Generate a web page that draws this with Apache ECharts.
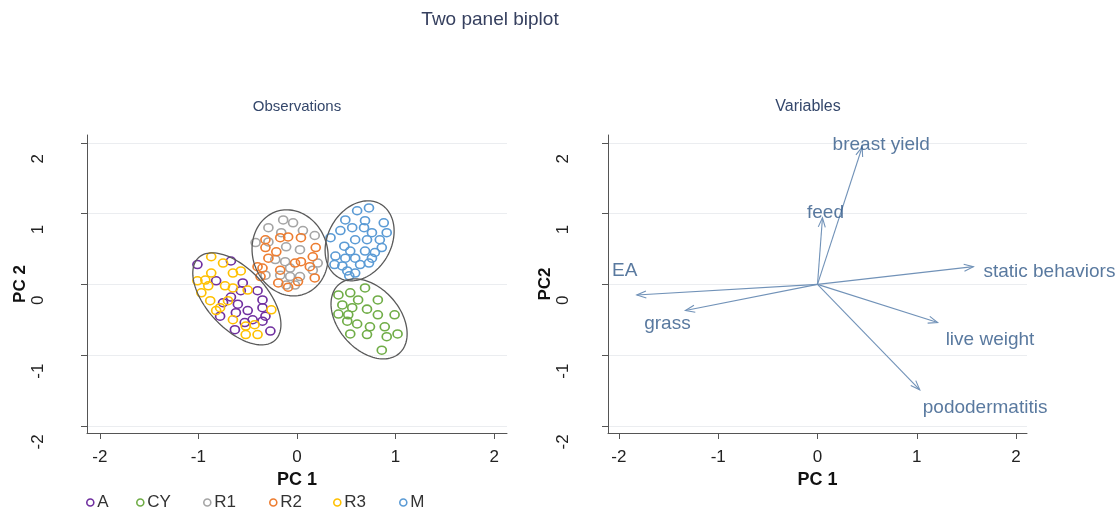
<!DOCTYPE html>
<html><head><meta charset="utf-8">
<script src="https://cdn.jsdelivr.net/npm/echarts@6/dist/echarts.min.js"></script>
<style>html,body{margin:0;padding:0;background:#fff}#c{width:1120px;height:510px}</style>
</head><body><div id="c"></div>
<script>
// ---------- DATA ----------
const groups = ['A', 'CY', 'R1', 'R2', 'R3', 'M'];
const tickValues = [-2, -1, 0, 1, 2];

const obsA = [[-1.01,0.28],[-0.67,0.33],[-0.82,0.05],[-0.55,0.02],[-0.57,-0.09],[-0.40,-0.09],[-0.67,-0.18],
  [-0.75,-0.26],[-0.60,-0.28],[-0.35,-0.22],[-0.35,-0.33],[-0.78,-0.45],[-0.62,-0.40],[-0.32,-0.45],
  [-0.45,-0.50],[-0.35,-0.52],[-0.63,-0.64],[-0.53,-0.54],[-0.27,-0.66],[-0.50,-0.37]];
const obsCY = [[0.69,-0.05],[0.42,-0.15],[0.54,-0.12],[0.62,-0.22],[0.82,-0.22],[0.46,-0.29],[0.56,-0.33],
  [0.71,-0.35],[0.42,-0.42],[0.52,-0.43],[0.82,-0.43],[0.99,-0.43],[0.51,-0.52],[0.61,-0.56],[0.74,-0.60],
  [0.89,-0.60],[0.54,-0.70],[0.71,-0.71],[0.91,-0.74],[1.02,-0.70],[0.86,-0.93]];
const obsR1 = [[-0.14,0.91],[-0.04,0.87],[-0.29,0.80],[-0.16,0.73],[0.06,0.76],[0.18,0.69],[-0.42,0.59],
  [-0.29,0.60],[-0.11,0.53],[0.03,0.49],[-0.22,0.35],[-0.12,0.32],[-0.32,0.13],[-0.17,0.13],[-0.07,0.23],
  [-0.07,0.11],[0.03,0.11],[0.21,0.30],[0.16,0.20],[-0.02,-0.01],[-0.11,-0.01]];
const obsR2 = [[-0.17,0.66],[-0.09,0.67],[0.04,0.66],[-0.32,0.63],[-0.32,0.52],[0.19,0.52],[-0.21,0.46],
  [0.16,0.39],[-0.40,0.25],[-0.35,0.23],[-0.02,0.30],[0.04,0.32],[0.13,0.25],[-0.37,0.11],[-0.17,0.20],
  [0.01,0.04],[0.18,0.09],[-0.19,0.02],[-0.09,-0.04],[-0.29,0.37]];
const obsR3 = [[-0.87,0.39],[-0.75,0.30],[-0.57,0.19],[-0.65,0.16],[-1.01,0.05],[-0.87,0.16],[-0.93,0.06],
  [-0.90,-0.02],[-0.73,-0.02],[-0.65,-0.05],[-0.97,-0.12],[-0.50,-0.08],[-0.88,-0.23],[-0.78,-0.33],
  [-0.70,-0.23],[-0.82,-0.37],[-0.26,-0.36],[-0.65,-0.50],[-0.52,-0.59],[-0.43,-0.57],[-0.52,-0.71],[-0.40,-0.71]];
const obsM = [[0.73,1.08],[0.61,1.04],[0.49,0.91],[0.69,0.90],[0.88,0.87],[0.56,0.80],[0.44,0.76],[0.68,0.80],
  [0.76,0.73],[0.91,0.73],[0.34,0.66],[0.59,0.63],[0.71,0.63],[0.84,0.63],[0.48,0.54],[0.86,0.52],[0.79,0.45],
  [0.54,0.47],[0.69,0.47],[0.39,0.40],[0.49,0.37],[0.59,0.37],[0.76,0.37],[0.38,0.28],[0.46,0.26],[0.64,0.28],
  [0.73,0.30],[0.51,0.19],[0.59,0.16],[0.53,0.12]];
const obsByGroup = [obsA, obsCY, obsR1, obsR2, obsR3, obsM];

// group ellipses: centre, half-width, half-height (data units), skew (degrees)
const ellipseCentersX = [-0.61, -0.07, 0.635, 0.731];
const ellipseCentersY = [-0.205, 0.445, 0.615, -0.488];
const ellipseHalfW = [0.447, 0.386, 0.350, 0.386];
const ellipseHalfH = [0.650, 0.608, 0.565, 0.565];
const ellipseSkew = [-34, -5, 14, -22];

// variable loadings (arrow tips)
const varNames = ['breast yield', 'feed', 'static behaviors', 'live weight', 'pododermatitis', 'EA', 'grass'];
const varX = [0.45, 0.05, 1.57, 1.21, 1.03, -1.82, -1.33];
const varY = [1.94, 0.94, 0.25, -0.54, -1.49, -0.15, -0.37];

// ---------- STYLE ----------
const groupColors = ['#7030a0', '#70ad47', '#a5a5a5', '#ed7d31', '#ffc000', '#5b9bd5'];
const legendLefts = [81, 131, 198, 264, 328, 394];
const labelLayout = {
  'breast yield': {align: 'center', offset: [19, -2]},
  'feed': {align: 'center', offset: [3, -5]},
  'static behaviors': {align: 'left', offset: [10, 5]},
  'live weight': {align: 'left', offset: [8, 17]},
  'pododermatitis': {align: 'left', offset: [3, 18]},
  'EA': {align: 'center', offset: [-12, -24]},
  'grass': {align: 'center', offset: [-18, 13]}
};
const FONT = 'Liberation Sans, Arial, sans-serif';
const titleColor = '#36405f';
const subTitleColor = '#34476b';
const arrowColor = '#7192b8';
const varLabelColor = '#2f5887';

const chart = echarts.init(document.getElementById('c'));

function xAxis(gi, min, max) {
  return {
    gridIndex: gi, type: 'value', min: min, max: max,
    name: 'PC 1', nameLocation: 'middle', nameGap: 21,
    nameTextStyle: {fontFamily: FONT, fontSize: 18, fontWeight: 'bold', color: '#111'},
    axisLine: {show: true, onZero: false, lineStyle: {color: '#555', width: 1}},
    axisTick: {show: true, length: 6, customValues: tickValues, lineStyle: {color: '#555'}},
    axisLabel: {customValues: tickValues, margin: 16, fontFamily: FONT, fontSize: 17, color: '#222',
      formatter: v => String(v)},
    splitLine: {show: false}
  };
}
function yAxis(gi, name, margin, nameGap) {
  return {
    gridIndex: gi, type: 'value', min: -2.1, max: 2.11,
    name: name, nameLocation: 'middle', nameGap: nameGap, nameRotate: 90,
    nameTextStyle: {fontFamily: FONT, fontSize: 17, fontWeight: 'bold', color: '#111'},
    axisLine: {show: true, onZero: false, lineStyle: {color: '#555', width: 1}},
    axisTick: {show: true, length: 6, customValues: tickValues, lineStyle: {color: '#555'}},
    axisLabel: {customValues: tickValues, rotate: 90, margin: margin, align: 'center', verticalAlign: 'bottom',
      padding: [0, 32, 0, 0], fontFamily: FONT, fontSize: 17, color: '#222', formatter: v => String(v)},
    splitLine: {show: false}
  };
}

const gridLines = {
  silent: true, symbol: 'none', label: {show: false}, z: 0,
  lineStyle: {color: '#ebedf0', width: 1, type: 'solid'},
  data: tickValues.map(v => ({yAxis: v}))
};

const series = [];
groups.forEach((g, i) => {
  series.push({
    name: g, type: 'scatter', xAxisIndex: 0, yAxisIndex: 0,
    data: obsByGroup[i], symbol: 'circle', symbolSize: [9, 8],
    itemStyle: {color: 'rgba(255,255,255,0)', borderColor: groupColors[i], borderWidth: 1.6, opacity: 1},
    emphasis: {disabled: true},
    markLine: i === 0 ? gridLines : undefined,
    z: 3
  });
});

series.push({
  type: 'custom', xAxisIndex: 0, yAxisIndex: 0, silent: true, z: 4,
  data: ellipseCentersX.map((cx, i) => [cx, ellipseCentersY[i], ellipseHalfW[i], ellipseHalfH[i], ellipseSkew[i]]),
  encode: {x: 0, y: 1},
  renderItem: function (params, api) {
    const cx = api.value(0), cy = api.value(1), hw = api.value(2), hh = api.value(3);
    const phi = api.value(4) * Math.PI / 180;
    const pts = [];
    for (let k = 0; k < 120; k++) {
      const t = k / 120 * Math.PI * 2;
      pts.push(api.coord([cx + hw * Math.cos(t), cy + hh * Math.sin(t + phi)]));
    }
    return {type: 'polygon', shape: {points: pts}, style: {fill: 'none', stroke: '#5a5a5a', lineWidth: 1.3}};
  }
});

series.push({
  type: 'custom', xAxisIndex: 1, yAxisIndex: 1, silent: true, z: 4,
  data: varX.map((x, i) => [x, varY[i]]),
  encode: {x: 0, y: 1},
  renderItem: function (params, api) {
    const o = api.coord([0, 0]);
    const p = api.coord([api.value(0), api.value(1)]);
    const ang = Math.atan2(p[1] - o[1], p[0] - o[0]);
    const L = 10, A = 0.36;
    const h1 = [p[0] - L * Math.cos(ang - A), p[1] - L * Math.sin(ang - A)];
    const h2 = [p[0] - L * Math.cos(ang + A), p[1] - L * Math.sin(ang + A)];
    return {type: 'group', children: [
      {type: 'line', shape: {x1: o[0], y1: o[1], x2: p[0], y2: p[1]}, style: {stroke: arrowColor, lineWidth: 1.1}},
      {type: 'polyline', shape: {points: [h1, p, h2]}, style: {stroke: arrowColor, lineWidth: 1.1, fill: null}}
    ]};
  }
});

series.push({
  type: 'scatter', xAxisIndex: 1, yAxisIndex: 1, symbolSize: 0, silent: true, z: 5,
  data: varNames.map((n, i) => ({
    name: n, value: [varX[i], varY[i]],
    label: {show: true, position: 'inside', formatter: n, align: labelLayout[n].align,
      offset: labelLayout[n].offset, verticalAlign: 'middle',
      color: varLabelColor, fontFamily: FONT, fontSize: 19}
  })),
  markLine: gridLines
});

chart.setOption({
  animation: false,
  backgroundColor: '#fff',
  graphic: [
    {type: 'text', x: 490, y: 20, style: {text: 'Two panel biplot', fill: titleColor, font: '19px ' + FONT, align: 'center', verticalAlign: 'middle'}},
    {type: 'text', x: 297, y: 107, style: {text: 'Observations', fill: subTitleColor, font: '15px ' + FONT, align: 'center', verticalAlign: 'middle'}},
    {type: 'text', x: 808, y: 107, style: {text: 'Variables', fill: subTitleColor, font: '16px ' + FONT, align: 'center', verticalAlign: 'middle'}}
  ],
  legend: groups.map((g, i) => ({
    data: [g], left: legendLefts[i], top: 489, itemWidth: 8, itemHeight: 7, itemGap: 0,
    selectedMode: false,
    itemStyle: {color: 'rgba(255,255,255,0)', borderColor: groupColors[i], borderWidth: 1.6},
    textStyle: {fontFamily: FONT, fontSize: 17, color: '#333', padding: [10, 0, 0, -2]}
  })),
  grid: [
    {left: 87, top: 135, width: 420, height: 298},
    {left: 608, top: 135, width: 419, height: 298}
  ],
  xAxis: [xAxis(0, -2.13, 2.13), xAxis(1, -2.11, 2.11)],
  yAxis: [yAxis(0, 'PC 2', 40, 51), yAxis(1, 'PC2', 36, 52)],
  series: series
});
</script></body></html>
